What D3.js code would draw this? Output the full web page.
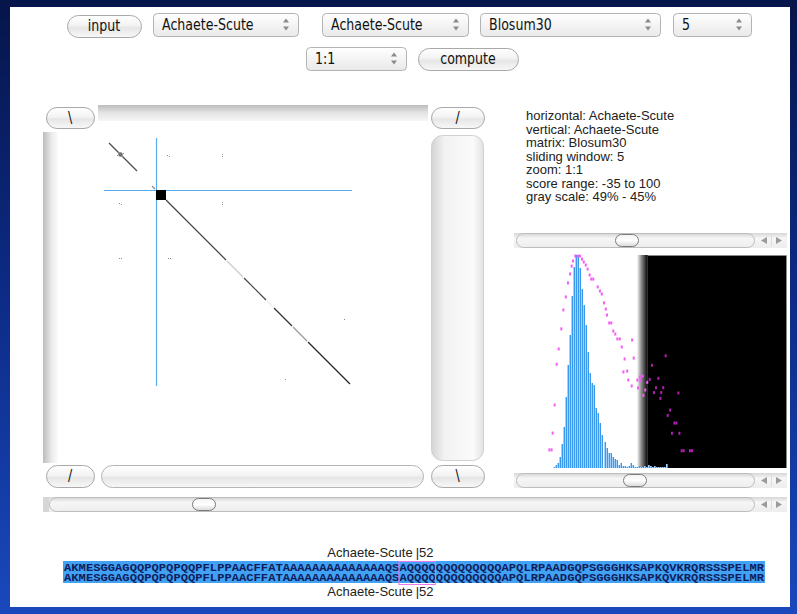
<!DOCTYPE html>
<html>
<head>
<meta charset="utf-8">
<script src="https://cdn.jsdelivr.net/npm/d3@7.9.0/dist/d3.min.js"></script>
<style>
  html, body { margin: 0; padding: 0; background: #0a1a55; overflow: hidden; }
  svg { display: block; }
  .ui { font-family: "DejaVu Sans", sans-serif; font-size: 15px; fill: #111; }
  .info { font-family: "Liberation Sans", Arial, sans-serif; font-size: 13px; fill: #222; }
  .seq { font-family: "Liberation Mono", "Courier New", monospace; font-size: 10px; font-weight: bold; fill: #10205e; }
</style>
</head>
<body>
<svg id="chart" width="797" height="614"></svg>
<script>
// ---- data ----
const seqName = 'Achaete-Scute';
const selectLabels = ['Achaete-Scute', 'Achaete-Scute', 'Blosum30', '5', '1:1'];
const buttonLabels = ['input', 'compute'];
const infoLines = [
  'horizontal: Achaete-Scute',
  'vertical: Achaete-Scute',
  'matrix: Blosum30',
  'sliding window: 5',
  'zoom: 1:1',
  'score range: -35 to 100',
  'gray scale: 49% - 45%'
];

const seqLength = 248;
const cursorPos = 52;
const windowSize = 5;
const scoreMin = -35;
const scoreMax = 100;
const grayLow = 45;   // percent of score range
const grayHigh = 49;

// histogram of window scores (blue bars)
const histScores = d3.range(-15, 42);
const histCounts = [1, 3, 5, 11, 24, 41, 71, 103, 133, 172, 201, 213, 213, 200, 179, 163, 143, 116,
  95, 85, 83, 60, 55, 45, 33, 26, 20, 15, 15, 11, 9, 8, 3, 5, 2, 2, 1, 2, 5, 3, 1, 1, 2, 1, 1,
  2, 1, 3, 2, 1, 2, 1, 1, 1, 1, 1, 4];

// log-scaled counts (magenta ticks), level in % of panel height
const pinkScores = [-17.5, -16.4, -15.9, -14.9, -13.9, -12.9, -11.6, -10.6, -9.4, -8.3, -7.3, -6.5,
  -5.8, -4.7, -3.5, -2.4, -1.4, -0.5, 0.5, 1.4, 2.4, 3.2, 4.2, 6.4, 7.5, 8.4, 9.5, 10.4, 11, 12.1,
  13.1, 14.1, 15.1, 16.1, 17.3, 18.3, 19.7, 19.1, 21, 21.5, 23.4, 24.2, 23.2, 26, 26.3, 27.2,
  40, 33.2, 28.6, 32.1, 36.4, 27.5, 30.9, 35.2, 38.8, 29.9, 34.2, 37.8, 46.3, 29, 37.4, 42.2, 41,
  44.3, 45.3, 43.1, 46.8, 47.9, 48.9, 52, 53];
const pinkLevels = [8.5, 8.5, 16.4, 29.6, 48.7, 55.9, 65.3, 74.2, 80.3, 86.9, 91.1, 94.8,
  97.2, 99.5, 99.5, 99.5, 98.1, 96.7, 95.3, 93.4, 90.6, 88.7, 88.7, 85, 83.1, 81.7, 77.5, 74.6, 71.8, 68.1,
  68.1, 64.3, 62.9, 60.6, 60.6, 56.8, 51.2, 45.1, 45.5, 41.3, 60.1, 51.6, 38.5, 41.3, 37.6, 42.7,
  52.7, 48.2, 43.2, 41.6, 42.1, 41, 40.2, 37.7, 37.7, 36.6, 35.4, 35.4, 35.2, 34.1, 32.7, 27.2, 24.7,
  21.1, 21.1, 16.3, 16.3, 8.1, 8.1, 8.1, 8.1];

// self-similarity runs along the main diagonal (residue from, to, darkness 0..1)
const diagFrom = [5, 48, 62, 123, 140, 163, 170, 189, 204];
const diagTo = [33, 51, 122, 139, 162, 169, 188, 203, 246];
const diagDark = [0.7, 0.45, 0.75, 0.2, 0.75, 0.08, 0.8, 0.4, 0.85];
const blockFrom = 52;   // poly-Q block
const blockTo = 62;
const blobAt = 16;

// scattered off-diagonal hits (horizontal residue, vertical residue)
const dotI = [63, 65, 118, 118, 15, 17, 118, 118, 15, 17, 64, 66, 240, 181, 14, 18, 13, 19];
const dotJ = [17, 18, 16, 18, 65, 66, 64, 66, 120, 120, 120, 120, 181, 241, 14, 18, 17, 15];

// sequence window shown under the plot
const seqWindow = 'AKMESGGAGQQPQPQPQQPFLPPAACFFAT' + 'AAAAAAAAAAAAAA' + 'QS' + 'AQQQQ' +
  'QQQQQQQQQ' + 'APQLRPAADGQPSGGGHKSAPKQVKRQRSSSPELMR';
const boxStart = 46;

// ---- drawing ----
const svg = d3.select('#chart');
const defs = svg.append('defs');

function vGrad(id, stops, horizontal) {
  const g = defs.append('linearGradient').attr('id', id)
    .attr('x1', 0).attr('y1', 0)
    .attr('x2', horizontal ? 1 : 0).attr('y2', horizontal ? 0 : 1);
  stops.forEach(([o, c]) => g.append('stop').attr('offset', o).attr('stop-color', c));
}
vGrad('bg', [[0, '#06154a'], [0.5, '#0d2c88'], [1, '#1a48bc']]);
vGrad('btn', [[0, '#ffffff'], [0.45, '#f3f3f3'], [0.55, '#e6e6e6'], [1, '#f8f8f8']]);
vGrad('sel', [[0, '#ffffff'], [0.5, '#f4f4f4'], [1, '#e9e9e9']]);
vGrad('trackTop', [[0, '#bdbdbd'], [0.5, '#e4e4e4'], [1, '#f6f6f6']]);
vGrad('trackLeft', [[0, '#bcbcbc'], [0.6, '#ececec'], [1, '#fbfbfb']], true);
vGrad('trackRight', [[0, '#d4d4d4'], [0.25, '#f2f2f2'], [0.8, '#fbfbfb'], [1, '#e2e2e2']], true);
vGrad('scroll', [[0, '#d6d6d6'], [0.35, '#f6f6f6'], [1, '#ededed']]);
vGrad('thumb', [[0, '#f2f2f2'], [0.5, '#ffffff'], [1, '#d8d8d8']]);
vGrad('ramp', [[0, '#ffffff'], [0.35, '#9a9a9a'], [1, '#000000']], true);

svg.append('rect').attr('width', 797).attr('height', 614).attr('fill', 'url(#bg)');
svg.append('rect').attr('x', 10).attr('y', 7).attr('width', 780).attr('height', 600).attr('fill', '#fff');

// the Aqua controls use a narrow face: squeeze the label horizontally
function uiLabel(g, x, y, label, anchor) {
  return g.append('text').attr('class', 'ui')
    .attr('transform', `translate(${x},${y}) scale(0.84,1)`)
    .attr('text-anchor', anchor || 'start')
    .text(label);
}

// pill shaped push button
function pushButton(x, y, w, h, label) {
  const g = svg.append('g');
  g.append('rect').attr('x', x + 0.5).attr('y', y + 0.5).attr('width', w).attr('height', h)
    .attr('rx', h / 2).attr('fill', 'url(#btn)').attr('stroke', '#a9a9a9');
  uiLabel(g, x + w / 2, y + h / 2 + 5, label, 'middle');
  return g;
}

function popup(x, y, w, h, label) {
  const g = svg.append('g');
  g.append('rect').attr('x', x + 0.5).attr('y', y + 0.5).attr('width', w).attr('height', h)
    .attr('rx', 4).attr('fill', 'url(#sel)').attr('stroke', '#b3b3b3');
  uiLabel(g, x + 9, y + h / 2 + 5.5, label);
  const ax = x + w - 12, ay = y + h / 2;
  g.append('path').attr('d', `M${ax - 3},${ay - 2}L${ax},${ay - 6}L${ax + 3},${ay - 2}Z`).attr('fill', '#8a8a8a');
  g.append('path').attr('d', `M${ax - 3},${ay + 2}L${ax},${ay + 6}L${ax + 3},${ay + 2}Z`).attr('fill', '#8a8a8a');
}

// top control rows
const popupBoxes = [[153, 13, 145, 23], [322, 13, 146, 23], [480, 13, 180, 23], [673, 13, 78, 23], [306, 47, 100, 23]];
popupBoxes.forEach((b, i) => popup(b[0], b[1], b[2], b[3], selectLabels[i]));
pushButton(67, 15, 74, 22, buttonLabels[0]);
pushButton(418, 48, 100, 22, buttonLabels[1]);

// horizontal scrollbar with thumb and arrows
function scrollbar(x0, x1, y, thumbX, capLeft) {
  const h = 15;
  const g = svg.append('g');
  g.append('rect').attr('x', x0).attr('y', y).attr('width', x1 - x0).attr('height', h).attr('fill', 'url(#scroll)');
  if (capLeft) {
    g.append('rect').attr('x', x0).attr('y', y).attr('width', 6).attr('height', h).attr('fill', '#d6d6d6');
  }
  const tx0 = x0 + (capLeft ? 6 : 2), tx1 = x1 - 33;
  g.append('rect').attr('x', tx0 + 0.5).attr('y', y + 0.5).attr('width', tx1 - tx0).attr('height', h - 1)
    .attr('rx', 7).attr('fill', 'url(#scroll)').attr('stroke', '#bdbdbd');
  g.append('rect').attr('x', thumbX - 11.5).attr('y', y + 1.5).attr('width', 23).attr('height', h - 3)
    .attr('rx', 6).attr('fill', 'url(#thumb)').attr('stroke', '#7c7c7c');
  const ay = y + h / 2;
  [x1 - 23, x1 - 8].forEach((ax, k) => {
    const d = k === 0 ? `M${ax + 3},${ay - 3.5}L${ax - 3},${ay}L${ax + 3},${ay + 3.5}Z`
                      : `M${ax - 3},${ay - 3.5}L${ax + 3},${ay}L${ax - 3},${ay + 3.5}Z`;
    g.append('path').attr('d', d).attr('fill', '#9a9a9a');
  });
  g.append('line').attr('x1', x1 - 15.5).attr('x2', x1 - 15.5).attr('y1', y + 2).attr('y2', y + h - 2).attr('stroke', '#dcdcdc');
}

// ---- dot plot panel ----
svg.append('rect').attr('x', 98).attr('y', 105).attr('width', 330).attr('height', 16).attr('fill', 'url(#trackTop)');
svg.append('rect').attr('x', 43).attr('y', 132).attr('width', 15).attr('height', 331).attr('fill', 'url(#trackLeft)');
svg.append('rect').attr('x', 431.5).attr('y', 135.5).attr('width', 52).attr('height', 325).attr('rx', 11)
  .attr('fill', 'url(#trackRight)').attr('stroke', '#d0d0d0');
svg.append('rect').attr('x', 101.5).attr('y', 465.5).attr('width', 322).attr('height', 22).attr('rx', 11)
  .attr('fill', 'url(#btn)').attr('stroke', '#b5b5b5');
pushButton(46, 107, 48, 21, '\\');
pushButton(431, 107, 53, 21, '/');
pushButton(46, 465, 48, 22, '/');
pushButton(431, 465, 53, 22, '\\');
scrollbar(43, 787, 497, 204, true);

const dx = d3.scaleLinear().domain([0, seqLength]).range([104, 352]);
const dy = d3.scaleLinear().domain([0, seqLength]).range([138, 386]);
const darkness = d3.scaleLinear().domain([0, 1]).range(['#ffffff', '#000000']);

const plot = svg.append('g');
plot.selectAll('line.diag')
  .data(diagFrom.map((f, i) => ({ from: f, to: diagTo[i], dark: diagDark[i] })))
  .join('line')
  .attr('class', 'diag')
  .attr('x1', (d) => dx(d.from)).attr('y1', (d) => dy(d.from))
  .attr('x2', (d) => dx(d.to)).attr('y2', (d) => dy(d.to))
  .attr('stroke', (d) => darkness(d.dark))
  .attr('stroke-width', 1.2);

plot.selectAll('rect.dot')
  .data(dotI.map((v, i) => [v, dotJ[i]]))
  .join('rect')
  .attr('class', 'dot')
  .attr('x', (d) => dx(d[0])).attr('y', (d) => dy(d[1]))
  .attr('width', 1).attr('height', 1)
  .attr('fill', '#8c8c8c');

plot.append('circle').attr('cx', dx(blobAt) + 0.5).attr('cy', dy(blobAt) + 0.5).attr('r', 2.2).attr('fill', '#6e6e6e');

// crosshair at the cursor residue
plot.append('line').attr('x1', dx(cursorPos) + 0.5).attr('x2', dx(cursorPos) + 0.5)
  .attr('y1', dy(0)).attr('y2', dy(seqLength)).attr('stroke', '#5aaaf2').attr('stroke-width', 1.2);
plot.append('line').attr('y1', dy(cursorPos) + 0.5).attr('y2', dy(cursorPos) + 0.5)
  .attr('x1', dx(0)).attr('x2', dx(seqLength)).attr('stroke', '#5aaaf2').attr('stroke-width', 1.2);
plot.append('rect').attr('x', dx(blockFrom)).attr('y', dy(blockFrom))
  .attr('width', dx(blockTo) - dx(blockFrom)).attr('height', dy(blockTo) - dy(blockFrom)).attr('fill', '#000');

// ---- info text ----
svg.append('g').selectAll('text')
  .data(infoLines)
  .join('text')
  .attr('class', 'info')
  .attr('x', 526)
  .attr('y', (_, i) => 120 + i * 13.5)
  .text((d) => d);

// ---- score histogram ----
const hx = d3.scaleLinear().domain([scoreMin, scoreMax]).range([514, 787]);
const hy = d3.scaleLinear().domain([0, d3.max(histCounts)]).range([468, 255]);
const ly = d3.scaleLinear().domain([0, 100]).range([468, 255]);
const lowScore = scoreMin + (scoreMax - scoreMin) * grayLow / 100;
const highScore = scoreMin + (scoreMax - scoreMin) * grayHigh / 100;

scrollbar(514, 787, 233, 627, false);
scrollbar(514, 787, 473, 635, false);

const hist = svg.append('g');
hist.append('rect').attr('x', 514).attr('y', 255).attr('width', hx(lowScore) - 514).attr('height', 213).attr('fill', '#fff');
hist.append('rect').attr('x', hx(lowScore)).attr('y', 255).attr('width', hx(highScore) - hx(lowScore)).attr('height', 213).attr('fill', 'url(#ramp)');
hist.append('rect').attr('x', hx(highScore)).attr('y', 255).attr('width', 786 - hx(highScore)).attr('height', 213).attr('fill', '#000');
hist.append('path').attr('d', `M${hx(highScore)},255.5H786.5V468`).attr('fill', 'none').attr('stroke', '#8a8a8a');

const bins = histScores.map((s, i) => ({ s, c: histCounts[i] }));
hist.selectAll('rect.bar')
  .data(bins)
  .join('rect')
  .attr('class', 'bar')
  .attr('x', (d) => Math.floor(hx(d.s)) - 1)
  .attr('y', (d) => hy(d.c))
  .attr('width', 2)
  .attr('height', (d) => hy(0) - hy(d.c))
  .attr('fill', '#a3d3fc');
hist.selectAll('rect.barline')
  .data(bins)
  .join('rect')
  .attr('class', 'barline')
  .attr('x', (d) => Math.floor(hx(d.s)))
  .attr('y', (d) => hy(d.c))
  .attr('width', 1)
  .attr('height', (d) => hy(0) - hy(d.c))
  .attr('fill', '#3a99ea');

hist.selectAll('rect.pink')
  .data(pinkScores.map((s, i) => ({ s, l: pinkLevels[i] })))
  .join('rect')
  .attr('class', 'pink')
  .attr('x', (d) => hx(d.s) - 1)
  .attr('y', (d) => ly(d.l) - 1.5)
  .attr('width', 2)
  .attr('height', 3)
  .attr('fill', (d) => (d.s > highScore ? '#b11eb1' : '#f55cf5'));

// ---- sequence alignment strip ----
const cw = 700 / seqWindow.length;
const sx = (i) => 64 + i * cw;
svg.append('rect').attr('x', 63).attr('y', 561).attr('width', 702).attr('height', 22).attr('fill', '#41a2f4');
[570.5, 581].forEach((y) => {
  svg.append('text').attr('class', 'seq').attr('x', sx(0)).attr('y', y)
    .attr('textLength', 700).attr('lengthAdjust', 'spacingAndGlyphs').text(seqWindow);
});
svg.append('rect').attr('x', sx(boxStart) - 0.5).attr('y', 561.5)
  .attr('width', cw * windowSize).attr('height', 23).attr('fill', 'none').attr('stroke', '#e77ae7');

const mid = sx(boxStart) + cw * windowSize / 2;
[556.5, 596].forEach((y) => {
  svg.append('text').attr('class', 'info').attr('x', mid - 5).attr('y', y).attr('text-anchor', 'end').text(seqName);
  svg.append('text').attr('class', 'info').attr('x', mid - 2).attr('y', y).text('|' + cursorPos);
});
</script>
</body>
</html>
